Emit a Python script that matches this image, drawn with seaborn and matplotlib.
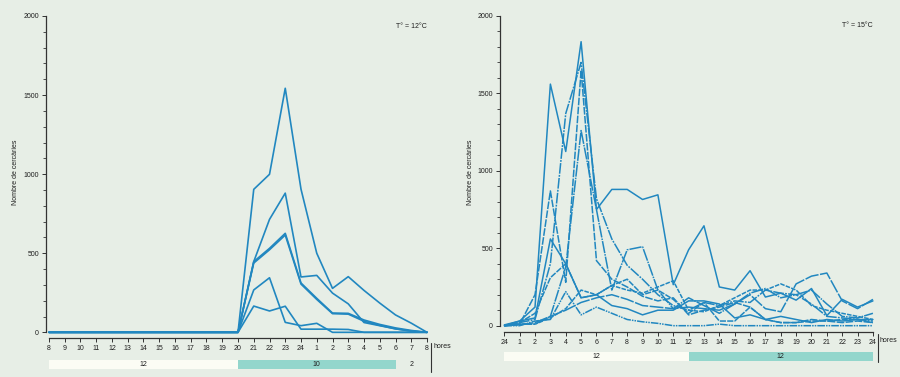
import numpy as np
import pandas as pd
import seaborn as sns
import matplotlib.pyplot as plt
from matplotlib.lines import Line2D
from matplotlib.ticker import MultipleLocator

# ---- data: T = 12 C (hours 8 -> 8) ----
hores_12 = ['8', '9', '10', '11', '12', '13', '14', '15', '16', '17', '18', '19', '20',
            '21', '22', '23', '24', '1', '2', '3', '4', '5', '6', '7', '8']
s12_a = [0, 0, 0, 0, 0, 0, 0, 0, 0, 0, 0, 0, 0, 904, 999, 1543, 905, 500, 278, 352, 265, 185, 110, 58, 0]
s12_b = [0, 0, 0, 0, 0, 0, 0, 0, 0, 0, 0, 0, 0, 447, 714, 880, 350, 360, 248, 180, 62, 42, 22, 8, 0]
s12_c = [0, 0, 0, 0, 0, 0, 0, 0, 0, 0, 0, 0, 0, 447, 531, 626, 312, 215, 122, 120, 78, 50, 28, 12, 0]
s12_d = [0, 0, 0, 0, 0, 0, 0, 0, 0, 0, 0, 0, 0, 438, 522, 615, 305, 208, 118, 115, 70, 44, 22, 8, 0]
s12_e = [0, 0, 0, 0, 0, 0, 0, 0, 0, 0, 0, 0, 0, 268, 345, 63, 42, 57, 0, 0, 0, 0, 0, 0, 0]
s12_f = [0, 0, 0, 0, 0, 0, 0, 0, 0, 0, 0, 0, 0, 166, 135, 165, 20, 20, 20, 18, 0, 0, 0, 0, 0]
llum_12 = [12, 10, 2]

# ---- data: T = 15 C (hours 24 -> 24) ----
hores_15 = ['24', '1', '2', '3', '4', '5', '6', '7', '8', '9', '10', '11', '12',
            '13', '14', '15', '16', '17', '18', '19', '20', '21', '22', '23', '24']
s15_a = [5, 30, 120, 1560, 1125, 1834, 750, 880, 880, 815, 845, 265, 490, 645, 250, 230, 355, 185, 210, 165, 240, 65, 170, 120, 160]
s15_b = [0, 20, 40, 400, 1370, 1700, 820, 560, 390, 300, 200, 130, 100, 150, 130, 160, 150, 230, 210, 200, 140, 60, 50, 40, 30]
s15_c = [0, 10, 200, 870, 280, 1650, 420, 300, 250, 190, 160, 180, 70, 100, 120, 150, 120, 40, 20, 20, 40, 30, 20, 30, 20]
s15_d = [0, 10, 10, 60, 380, 1260, 750, 230, 490, 510, 230, 110, 180, 130, 80, 140, 210, 240, 180, 200, 230, 140, 60, 50, 80]
s15_e = [0, 30, 50, 560, 400, 180, 200, 130, 110, 70, 100, 100, 160, 160, 140, 50, 70, 40, 60, 40, 20, 40, 30, 40, 40]
s15_f = [0, 20, 80, 310, 400, 180, 200, 260, 300, 200, 230, 170, 80, 150, 30, 30, 120, 40, 20, 20, 30, 30, 40, 40, 20]
s15_g = [0, 0, 30, 40, 220, 70, 120, 80, 40, 25, 15, 0, 0, 0, 10, 0, 0, 0, 0, 0, 0, 0, 0, 0, 0]
s15_h = [0, 10, 10, 50, 110, 230, 200, 260, 230, 210, 250, 290, 100, 90, 130, 180, 230, 230, 270, 230, 130, 100, 80, 60, 40]
s15_i = [0, 5, 20, 60, 100, 150, 180, 200, 170, 130, 120, 110, 120, 110, 100, 140, 200, 110, 90, 270, 320, 340, 160, 110, 170]
llum_15 = [12, 12]

BLUE = '#2187c0'
BG = '#e7eee6'
TXT = '#1e1e1e'
FS = 5

sns.set_style('ticks')
plt.rcParams['font.family'] = ['Liberation Sans', 'DejaVu Sans']
plt.rcParams['axes.edgecolor'] = '#333333'
plt.rcParams['xtick.color'] = '#333333'
plt.rcParams['ytick.color'] = '#333333'


def long_df(series):
    rows = []
    for name, vals in series.items():
        for i, v in enumerate(vals):
            rows.append({'serie': name, 'pos': i, 'n': v})
    return pd.DataFrame(rows)


def style_axis(ax, labels):
    ax.set_facecolor('none')
    for s in ['top', 'right']:
        ax.spines[s].set_visible(False)
    ax.spines['left'].set_bounds(0, 2000)
    ax.spines['bottom'].set_position(('outward', 2))
    ax.spines['bottom'].set_bounds(0, len(labels) - 1)
    ax.spines['left'].set_linewidth(0.9)
    ax.spines['bottom'].set_linewidth(0.9)
    ax.set_ylim(-20, 2000)
    ax.set_xticks(range(len(labels)))
    ax.set_xticklabels(labels)
    ax.yaxis.set_major_locator(MultipleLocator(500))
    ax.yaxis.set_minor_locator(MultipleLocator(100))
    ax.tick_params(axis='both', which='major', labelsize=FS, length=3, width=0.7, pad=2, labelcolor=TXT)
    ax.tick_params(axis='y', which='minor', length=2, width=0.6)
    ax.set_xlabel('')
    ax.set_ylabel('Nombre de cercàries', fontsize=FS, color=TXT)


def bar_axis(fig, rect, xlim, durades, colors):
    axb = fig.add_axes(rect)
    axb.set_xlim(*xlim)
    axb.set_ylim(0, 16)
    axb.axis('off')
    left = 0
    for d, c in zip(durades, colors):
        if c is not None:
            axb.barh(8, d, left=left, height=9, color=c, edgecolor='none')
        axb.text(left + d / 2, 8, str(d), ha='center', va='center', fontsize=FS, color=TXT)
        left += d
    return axb


fig = plt.figure(figsize=(9, 3.77), dpi=100)
fig.patch.set_facecolor(BG)

# ---- left panel ----
ax1 = fig.add_axes([46 / 900, 0.1101, 384 / 900, 0.8475])
df12 = long_df({'a': s12_a, 'b': s12_b, 'c': s12_c, 'd': s12_d, 'e': s12_e, 'f': s12_f})
sns.lineplot(data=df12, x='pos', y='n', hue='serie', palette=[BLUE] * 6,
             legend=False, ax=ax1, linewidth=1.2, sort=False)
ax1.set_xlim(-0.19, 24.19)
style_axis(ax1, hores_12)
ax1.yaxis.set_label_coords(-0.07, 0.51)
ax1.text(24, 1935, 'T° = 12°C', ha='right', va='center', fontsize=FS, color=TXT)
bar_axis(fig, [46 / 900, 5 / 377, 384 / 900, 16 / 377], (-0.19, 24.19),
         llum_12, ['#fbfcf4', '#93d6cc', None])
fig.add_artist(Line2D([431 / 900, 431 / 900], [1 - 343 / 377, 1 - 372 / 377],
                      transform=fig.transFigure, color='#333333', lw=0.8))
fig.text(433 / 900, 1 - 347 / 377, 'hores', fontsize=FS, color=TXT, va='center', ha='left')

# ---- right panel ----
ax2 = fig.add_axes([500 / 900, 0.1279, 376 / 900, 0.8297])
df15 = long_df({'a': s15_a, 'b': s15_b, 'c': s15_c, 'd': s15_d, 'e': s15_e,
                'f': s15_f, 'g': s15_g, 'h': s15_h, 'i': s15_i})
dashes = ['', (7, 0.8, 1.2, 0.8), (5, 0.9), (8, 0.7, 1, 0.7), '', (4, 0.8),
          (5, 0.7, 1, 0.7, 1, 0.7), (3, 0.8), (9, 1)]
sns.lineplot(data=df15, x='pos', y='n', hue='serie', style='serie', palette=[BLUE] * 9,
             dashes=dashes, legend=False, ax=ax2, linewidth=1.1, sort=False)
ax2.set_xlim(-0.28, 24.2)
style_axis(ax2, hores_15)
ax2.yaxis.set_label_coords(-0.069, 0.5)
ax2.text(24, 1940, 'T° = 15°C', ha='right', va='center', fontsize=FS, color=TXT)
bar_axis(fig, [500 / 900, 13 / 377, 376 / 900, 16 / 377], (-0.28, 24.2),
         llum_15, ['#fbfcf4', '#93d6cc'])
fig.add_artist(Line2D([878 / 900, 878 / 900], [1 - 334 / 377, 1 - 362 / 377],
                      transform=fig.transFigure, color='#333333', lw=0.8))
fig.text(880 / 900, 1 - 340 / 377, 'hores', fontsize=FS, color=TXT, va='center', ha='left')

fig.savefig('out.png', dpi=100, facecolor=BG)
